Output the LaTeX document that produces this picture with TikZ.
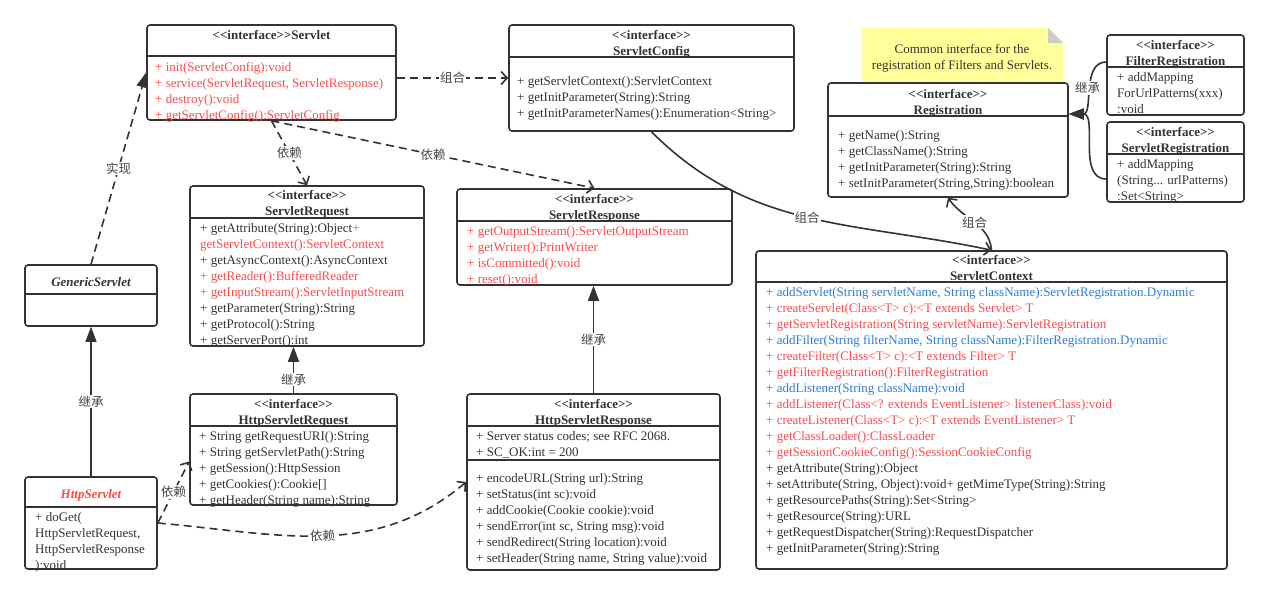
\documentclass[tikz,border=0pt]{standalone}
\usepackage{fontspec}
\setmainfont{Liberation Serif}[Ligatures=TeXOff]
\newfontfamily\cjkfont{Noto Sans CJK SC}
\usetikzlibrary{arrows.meta}
\definecolor{ink}{HTML}{333333}
\definecolor{cred}{HTML}{FF4A4A}
\definecolor{cblue}{HTML}{2F7BD8}
\definecolor{notey}{HTML}{FFFF99}
\definecolor{fold}{HTML}{CCCCCC}
\definecolor{lab}{HTML}{444444}

\begin{document}
\begin{tikzpicture}[x=1pt, y=1pt,
		classbox/.style={draw=ink, line width=1.6pt, rounded corners=3pt, fill=white, inner sep=0pt},
		sepline/.style={draw=ink, line width=1.6pt},
		headtext/.style={anchor=base, font=\bfseries\fontsize{13}{16}\selectfont, text=ink, inner sep=0pt, align=center},
		members/.style={anchor=base west, font=\fontsize{13}{16}\selectfont, text=ink, inner sep=0pt, align=left},
		rel/.style={draw=ink, line width=1.6pt},
		dep/.style={rel, dash pattern=on 8pt off 5pt, -{Straight Barb[length=6pt,width=13pt]}},
		comp/.style={rel, -{Straight Barb[length=6pt,width=13pt]}},
		inherit/.style={rel, -{Triangle[length=15pt,width=11pt]}},
		impl/.style={inherit, dash pattern=on 8pt off 5pt},
		rellabel/.style={fill=white, inner sep=1pt, text=lab, font=\cjkfont\fontsize{12.5}{14}\selectfont}]
		\useasboundingbox (0,0) rectangle (1268,-595);
		% note
		\fill[notey] (861,-28) -- (1048,-28) -- (1063,-43) -- (1063,-82) -- (861,-82) -- cycle;
		\fill[fold] (1048,-28) -- (1063,-43) -- (1048,-43) -- cycle;
		\node[anchor=base, align=center, inner sep=0pt, text=ink, font=\fontsize{13}{16}\selectfont] (note) at (962,-69) {Common interface for the\\registration of Filters and Servlets.};
		% Servlet
		\node[classbox, minimum width=249, minimum height=95] (servlet) at (271.5,-72.5) {};
		\node[headtext] (servlethead) at (271.5,-39) {<<interface>>Servlet};
		\draw[sepline] (147,-56) -- (396,-56);
		\node[members, text=cred] (servletops) at (155,-119) {+ init(ServletConfig):void\\+ service(ServletRequest, ServletResponse)\\+ destroy():void\\+ getServletConfig():ServletConfig};
		% ServletConfig
		\node[classbox, minimum width=285, minimum height=106] (config) at (651.5,-78) {};
		\node[headtext] (confighead) at (651.5,-55) {<<interface>>\\ServletConfig};
		\draw[sepline] (509,-57) -- (794,-57);
		\node[members] (configops) at (517,-117) {+ getServletContext():ServletContext\\+ getInitParameter(String):String\\+ getInitParameterNames():Enumeration<String>};
		% Registration
		\node[classbox, minimum width=240, minimum height=114] (registration) at (948,-140) {};
		\node[headtext] (reghead) at (948,-114) {<<interface>>\\Registration};
		\draw[sepline] (828,-116) -- (1068,-116);
		\node[members] (regops) at (838,-187) {+ getName():String\\+ getClassName():String\\+ getInitParameter(String):String\\+ setInitParameter(String,String):boolean};
		% FilterRegistration
		\node[classbox, minimum width=137, minimum height=80] (filterreg) at (1175.5,-75) {};
		\node[headtext] (filterhead) at (1175.5,-65) {<<interface>>\\FilterRegistration};
		\draw[sepline] (1107,-67) -- (1244,-67);
		\node[members] (filterops) at (1117,-113) {+ addMapping\\ForUrlPatterns(xxx)\\:void};
		% ServletRegistration
		\node[classbox, minimum width=137, minimum height=80] (servletreg) at (1175.5,-162) {};
		\node[headtext] (sreghead) at (1175.5,-152) {<<interface>>\\ServletRegistration};
		\draw[sepline] (1107,-154) -- (1244,-154);
		\node[members] (sregops) at (1117,-200) {+ addMapping\\(String... urlPatterns)\\:Set<String>};
		% ServletRequest
		\node[classbox, minimum width=234, minimum height=160] (request) at (307,-266) {};
		\node[headtext] (requesthead) at (307,-215) {<<interface>>\\ServletRequest};
		\draw[sepline] (190,-218) -- (424,-218);
		\node[members] (requestops) at (200,-344) {+ getAttribute(String):Object\textcolor{cred}{+}\\\textcolor{cred}{getServletContext():ServletContext}\\+ getAsyncContext():AsyncContext\\\textcolor{cred}{+ getReader():BufferedReader}\\\textcolor{cred}{+ getInputStream():ServletInputStream}\\+ getParameter(String):String\\+ getProtocol():String\\+ getServerPort():int};
		% ServletResponse
		\node[classbox, minimum width=275, minimum height=96] (response) at (594.5,-237) {};
		\node[headtext] (responsehead) at (594.5,-219) {<<interface>>\\ServletResponse};
		\draw[sepline] (457,-221) -- (732,-221);
		\node[members, text=cred] (responseops) at (467,-283) {+ getOutputStream():ServletOutputStream\\+ getWriter():PrintWriter\\+ isCommitted():void\\+ reset():void};
		% ServletContext
		\node[classbox, minimum width=471, minimum height=318] (context) at (991.5,-410) {};
		\node[headtext] (contexthead) at (991.5,-280) {<<interface>>\\ServletContext};
		\draw[sepline] (756,-282) -- (1227,-282);
		\node[members] (contextops) at (766,-552) {\textcolor{cblue}{+ addServlet(String servletName, String className):ServletRegistration.Dynamic}\\
			\textcolor{cred}{+ createServlet(Class<T> c):<T extends Servlet> T}\\
			\textcolor{cred}{+ getServletRegistration(String servletName):ServletRegistration}\\
			\textcolor{cblue}{+ addFilter(String filterName, String className):FilterRegistration.Dynamic}\\
			\textcolor{cred}{+ createFilter(Class<T> c):<T extends Filter> T}\\
			\textcolor{cred}{+ getFilterRegistration():FilterRegistration}\\
			\textcolor{cblue}{+ addListener(String className):void}\\
			\textcolor{cred}{+ addListener(Class<? extends EventListener> listenerClass):void}\\
			\textcolor{cred}{+ createListener(Class<T> c):<T extends EventListener> T}\\
			\textcolor{cred}{+ getClassLoader():ClassLoader}\\
			\textcolor{cred}{+ getSessionCookieConfig():SessionCookieConfig}\\
			+ getAttribute(String):Object\\
			+ setAttribute(String, Object):void+ getMimeType(String):String\\
			+ getResourcePaths(String):Set<String>\\
			+ getResource(String):URL\\
			+ getRequestDispatcher(String):RequestDispatcher\\
			+ getInitParameter(String):String};
		% GenericServlet
		\node[classbox, minimum width=132, minimum height=61] (generic) at (91,-295.5) {};
		\node[headtext, font=\bfseries\itshape\fontsize{13}{16}\selectfont] (generichead) at (91,-286) {GenericServlet};
		\draw[sepline] (25,-294) -- (157,-294);
		% HttpServlet
		\node[classbox, minimum width=132, minimum height=92] (httpservlet) at (91,-523) {};
		\node[headtext, text=cred, font=\bfseries\itshape\fontsize{13}{16}\selectfont] (httphead) at (91,-498) {HttpServlet};
		\draw[sepline] (25,-507) -- (157,-507);
		\node[members] (httpops) at (35,-569) {+ doGet(\\HttpServletRequest,\\HttpServletResponse\\):void};
		% HttpServletRequest
		\node[classbox, minimum width=207, minimum height=111] (hrequest) at (293.5,-449.5) {};
		\node[headtext] (hrequesthead) at (293.5,-424) {<<interface>>\\HttpServletRequest};
		\draw[sepline] (190,-426) -- (397,-426);
		\node[members] (hrequestops) at (199,-504) {+ String getRequestURI():String\\+ String getServletPath():String\\+ getSession():HttpSession\\+ getCookies():Cookie[]\\+ getHeader(String name):String};
		% HttpServletResponse
		\node[classbox, minimum width=253, minimum height=176] (hresponse) at (593.5,-482) {};
		\node[headtext] (hresponsehead) at (593.5,-424) {<<interface>>\\HttpServletResponse};
		\draw[sepline] (467,-426) -- (720,-426);
		\node[members] (hresponsefields) at (476,-456) {+ Server status codes; see RFC 2068.\\+ SC\_OK:int = 200};
		\draw[sepline] (467,-460) -- (720,-460);
		\node[members] (hresponseops) at (476,-562) {+ encodeURL(String url):String\\+ setStatus(int sc):void\\+ addCookie(Cookie cookie):void\\+ sendError(int sc, String msg):void\\+ sendRedirect(String location):void\\+ setHeader(String name, String value):void};
		% relations
		\draw[inherit] (httpservlet) -- (generic) node[midway, rellabel] {继承};
		\draw[impl] (generic.north) -- (servlet.west) node[midway, rellabel] {实现};
		\draw[dep] (servlet.east |- config.west) -- (config.west) node[midway, rellabel] {组合};
		\draw[dep] (servlet.south) -- (request.north) node[midway, rellabel] {依赖};
		\draw[dep] (servlet.south) -- (response.north) node[midway, rellabel] {依赖};
		\draw[comp] (config.south) to[out=-45, in=168] node[rellabel] {组合} (context.north);
		\draw[comp] (context.north) to[out=95, in=-55] node[rellabel] {组合} (registration.south);
		\draw[inherit] ([yshift=13]filterreg.west) to[out=180, in=0] node[rellabel] {继承} ([yshift=26]registration.east);
		\draw[inherit] ([yshift=-17]servletreg.west) to[out=180, in=0] ([yshift=26]registration.east);
		\draw[inherit] (hrequest.north) -- (hrequest.north |- request.south) node[pos=0.3, rellabel] {继承};
		\draw[inherit] (hresponse.north) -- (hresponse.north |- response.south) node[midway, rellabel] {继承};
		\draw[dep] (httpservlet.east) -- ([yshift=-12]hrequest.west) node[midway, rellabel] {依赖};
		\draw[dep] (httpservlet.east) to[out=-5, in=-140] node[rellabel] {依赖} (hresponse.west);
\end{tikzpicture}
\end{document}
